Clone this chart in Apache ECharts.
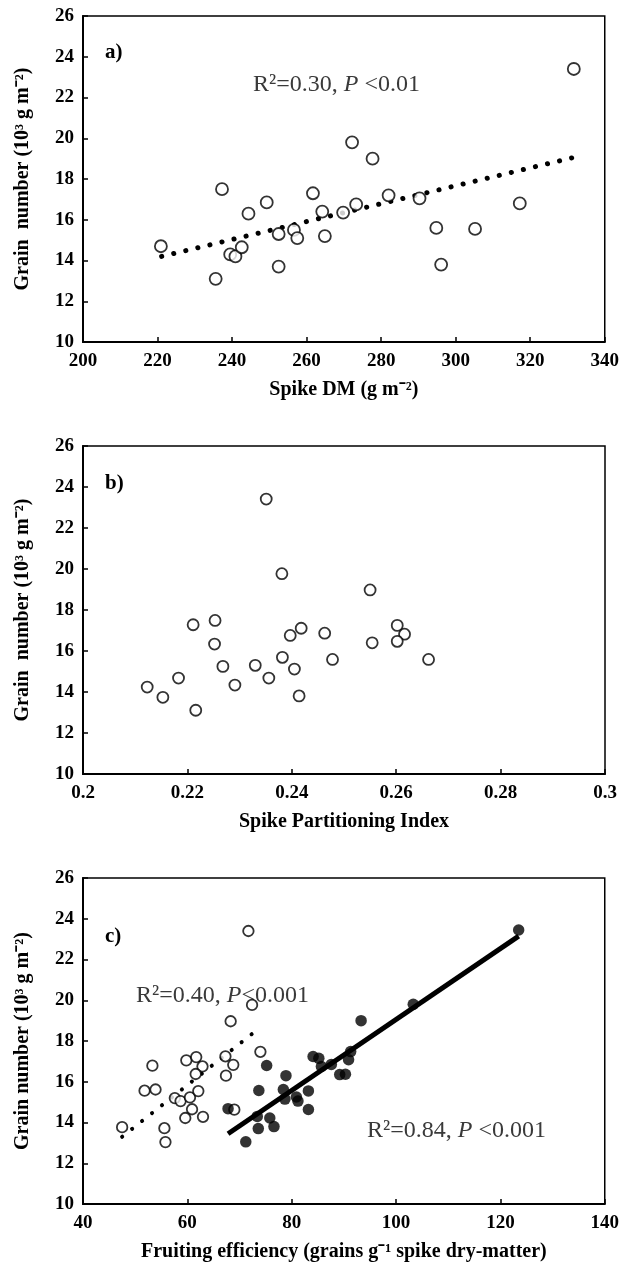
<!DOCTYPE html>
<html>
<head>
<meta charset="utf-8">
<script src="https://cdn.jsdelivr.net/npm/echarts@6/dist/echarts.min.js"></script>
<style>
html,body{margin:0;padding:0;background:#fff;}
#c{width:622px;height:1280px;}
</style>
</head>
<body>
<div id="c"></div>
<script>
// Panel a: Spike DM vs grain number
const spikeDM = [220.9, 237.3, 235.6, 239.5, 240.9, 242.6, 244.4, 249.3, 252.5, 252.5, 256.6, 257.5, 261.7, 264.2, 264.9, 269.8, 272.2, 273.3, 277.7, 282.0, 290.3, 294.8, 296.1, 305.2, 317.2, 331.7];
const grainA  = [14.7, 17.5, 13.1, 14.3, 14.2, 14.65, 16.3, 16.85, 15.3, 13.7, 15.5, 15.1, 17.3, 16.4, 15.2, 16.35, 19.8, 16.75, 19.0, 17.2, 17.05, 15.6, 13.8, 15.55, 16.8, 23.4];
const trendAX = [221.1, 331.5];
const trendAY = [14.2, 19.05];

// Panel b: Spike partitioning index vs grain number
const spi    = [0.2351, 0.2381, 0.2550, 0.2211, 0.2253, 0.2252, 0.2268, 0.2183, 0.2123, 0.2153, 0.2216, 0.2291, 0.2330, 0.2356, 0.2382, 0.2397, 0.2418, 0.2405, 0.2414, 0.2463, 0.2478, 0.2554, 0.2602, 0.2616, 0.2602, 0.2662];
const grainB = [23.41, 19.77, 18.98, 17.28, 17.49, 16.34, 15.25, 14.68, 14.24, 13.74, 13.11, 14.34, 15.30, 14.68, 15.69, 16.76, 17.11, 15.12, 13.81, 16.87, 15.59, 16.40, 17.25, 16.82, 16.47, 15.59];

// Panel c: Fruiting efficiency vs grain number (open and filled)
const feOpen     = [71.7, 72.4, 68.3, 74.0, 53.3, 59.8, 61.7, 62.9, 61.6, 67.3, 68.8, 67.4, 51.8, 53.9, 57.6, 58.7, 60.5, 62.1, 60.9, 59.6, 63.0, 69.0, 47.5, 55.6, 55.8];
const grainOpen  = [23.4, 19.77, 18.97, 17.47, 16.79, 17.05, 17.21, 16.75, 16.38, 17.25, 16.83, 16.3, 15.56, 15.62, 15.2, 15.05, 15.23, 15.54, 14.65, 14.22, 14.28, 14.63, 13.77, 13.72, 13.04];
const feFilled    = [123.5, 103.3, 93.3, 91.3, 84.1, 85.2, 90.9, 87.6, 85.7, 89.2, 90.3, 75.2, 78.9, 73.7, 78.4, 83.2, 78.7, 80.9, 81.2, 83.2, 67.8, 73.4, 75.8, 76.6, 73.6, 71.2];
const grainFilled = [23.45, 19.8, 19.0, 17.48, 17.24, 17.15, 17.08, 16.85, 16.75, 16.35, 16.37, 16.8, 16.3, 15.57, 15.62, 15.55, 15.15, 15.25, 15.05, 14.64, 14.68, 14.3, 14.22, 13.8, 13.7, 13.05];
const trendOpenX = [47.5, 72.4];
const trendOpenY = [13.3, 18.35];
const trendFilledX = [67.8, 123.5];
const trendFilledY = [13.45, 23.15];

// Axis ticks / labels
const yTicks = {min: 10, max: 26, interval: 2};
const xTicksA = {min: 200, max: 340, interval: 20};
const xTicksB = {min: 0.2, max: 0.3, interval: 0.02};
const xTicksC = {min: 40, max: 140, interval: 20};

const yNameA = 'Grain  number (10³ g m⁻²)';
const yNameB = 'Grain  number (10³ g m⁻²)';
const yNameC = 'Grain number (10³ g m⁻²)';
const xNameA = 'Spike DM (g m⁻²)';
const xNameB = 'Spike Partitioning Index';
const xNameC = 'Fruiting efficiency (grains g⁻¹ spike dry-matter)';

const zip = (a, b) => a.map((v, i) => [v, b[i]]);
const SERIF = '"Liberation Serif", "Times New Roman", serif';

function xAxis(idx, t, name, gap, fmt) {
  return {
    type: 'value', gridIndex: idx, min: t.min, max: t.max, interval: t.interval,
    name: name, nameLocation: 'middle', nameGap: gap,
    nameTextStyle: {fontFamily: SERIF, fontWeight: 'bold', fontSize: 20, color: '#000'},
    axisLine: {onZero: false, lineStyle: {color: '#000', width: 2}},
    axisTick: {inside: true, length: 5, lineStyle: {color: '#000', width: 1.5}},
    axisLabel: {color: '#000', fontFamily: SERIF, fontWeight: 'bold', fontSize: 19, margin: 10,
      formatter: fmt || (v => String(v))},
    splitLine: {show: false}
  };
}
function yAxis(idx, name) {
  return {
    type: 'value', gridIndex: idx, min: yTicks.min, max: yTicks.max, interval: yTicks.interval,
    name: name, nameLocation: 'middle', nameGap: 50, nameRotate: 90,
    nameTextStyle: {fontFamily: SERIF, fontWeight: 'bold', fontSize: 20, color: '#000'},
    axisLine: {onZero: false, lineStyle: {color: '#000', width: 2}},
    axisTick: {inside: true, length: 5, lineStyle: {color: '#000', width: 1.5}},
    axisLabel: {color: '#000', fontFamily: SERIF, fontWeight: 'bold', fontSize: 19, margin: 9},
    splitLine: {show: false}
  };
}
const openStyle = (size) => ({
  type: 'scatter', symbol: 'circle', symbolSize: size,
  itemStyle: {color: '#fff', borderColor: '#000', borderWidth: 1.8}
});

const chart = echarts.init(document.getElementById('c'), null, {renderer: 'canvas'});
const FS = 24;
const txtStyle = {fontFamily: SERIF, fontSize: FS, fill: '#3a3a3a'};
const rich = {
  n: {fontFamily: SERIF, fontSize: FS, fill: '#3a3a3a'},
  i: {fontFamily: SERIF, fontSize: FS, fontStyle: 'italic', fill: '#3a3a3a'}
};
chart.setOption({
  backgroundColor: '#fff',
  animation: false,
  grid: [
    {left: 83, top: 16, width: 522, height: 326, show: true, borderColor: '#000', borderWidth: 1.5},
    {left: 83, top: 446, width: 522, height: 328, show: true, borderColor: '#000', borderWidth: 1.5},
    {left: 83, top: 878, width: 522, height: 326, show: true, borderColor: '#000', borderWidth: 1.5}
  ],
  xAxis: [
    xAxis(0, xTicksA, xNameA, 38),
    xAxis(1, xTicksB, xNameB, 38, v => String(+v.toFixed(2))),
    xAxis(2, xTicksC, xNameC, 38)
  ],
  yAxis: [yAxis(0, yNameA), yAxis(1, yNameB), yAxis(2, yNameC)],
  series: [
    {type: 'line', xAxisIndex: 0, yAxisIndex: 0, data: zip(trendAX, trendAY), symbol: 'none',
     lineStyle: {color: '#000', width: 5, type: [0.1, 12.3], cap: 'round'}, z: 2},
    Object.assign(openStyle(12), {xAxisIndex: 0, yAxisIndex: 0, data: zip(spikeDM, grainA), z: 3}),
    Object.assign(openStyle(11), {xAxisIndex: 1, yAxisIndex: 1, data: zip(spi, grainB), z: 3}),
    {type: 'line', xAxisIndex: 2, yAxisIndex: 2, data: zip(trendOpenX, trendOpenY), symbol: 'none',
     lineStyle: {color: '#000', width: 4, type: [0.1, 12.6], cap: 'round'}, z: 2},
    Object.assign(openStyle(10.5), {xAxisIndex: 2, yAxisIndex: 2, data: zip(feOpen, grainOpen), z: 3}),
    {type: 'scatter', xAxisIndex: 2, yAxisIndex: 2, data: zip(feFilled, grainFilled), symbol: 'circle',
     symbolSize: 11.5, itemStyle: {color: '#000'}, z: 4},
    {type: 'line', xAxisIndex: 2, yAxisIndex: 2, data: zip(trendFilledX, trendFilledY), symbol: 'none',
     lineStyle: {color: '#000', width: 5}, z: 5}
  ],
  graphic: [
    {type: 'text', left: 105, top: 42, style: {text: 'a)', fontFamily: SERIF, fontWeight: 'bold', fontSize: 21, fill: '#000'}},
    {type: 'text', left: 105, top: 473, style: {text: 'b)', fontFamily: SERIF, fontWeight: 'bold', fontSize: 21, fill: '#000'}},
    {type: 'text', left: 105, top: 926, style: {text: 'c)', fontFamily: SERIF, fontWeight: 'bold', fontSize: 21, fill: '#000'}},
    {type: 'text', left: 253, top: 73, style: Object.assign({text: '{n|R²=0.30, }{i|P}{n| <0.01}', rich: rich}, txtStyle)},
    {type: 'text', left: 136, top: 984, style: Object.assign({text: '{n|R²=0.40, }{i|P}{n|<0.001}', rich: rich}, txtStyle)},
    {type: 'text', left: 367, top: 1119, style: Object.assign({text: '{n|R²=0.84, }{i|P}{n| <0.001}', rich: rich}, txtStyle)}
  ]
});
</script>
</body>
</html>
